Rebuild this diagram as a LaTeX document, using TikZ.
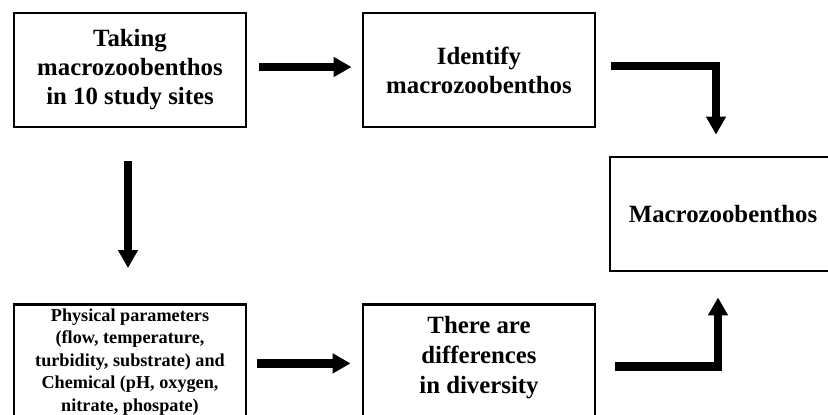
\documentclass[tikz,border=0pt]{standalone}
\usepackage{fontspec}
\setmainfont{Liberation Serif}
\usetikzlibrary{arrows.meta,positioning}

\begin{document}
\begin{tikzpicture}[
    x=0.5pt, y=-0.5pt,
    box/.style={draw, line width=1.4pt, minimum width=116pt, minimum height=57pt,
      inner sep=0pt, align=center, font=\bfseries\fontsize{12.4}{14.5}\selectfont},
    txt/.style={inner sep=0pt, align=center, font=\bfseries\fontsize{12.4}{15}\selectfont},
    smalltxt/.style={inner sep=0pt, align=center, font=\bfseries\fontsize{9.1}{11.25}\selectfont},
    flow/.style={line width=4.2pt, line join=miter, -{Triangle[length=9pt,width=9.5pt]}}
  ]
  \useasboundingbox (0,0) rectangle (828,414);
  \clip (0,0) rectangle (828,414);

  % верхний ряд
  \node[box] (taking) at (130,70) {Taking\\macrozoobenthos\\in 10 study sites};
  \node[box] (identify) at (479,70) {Identify\\macrozoobenthos};

  % итоговый блок справа
  \node[box, minimum width=113pt] (macro) at (723,214) {Macrozoobenthos};

  % нижний ряд
  \node[box, minimum height=70pt, anchor=north] (phys) at (130,303) {};
  \node[smalltxt] (physText) at (130,362) {Physical parameters\\(flow, temperature,\\turbidity, substrate) and\\Chemical (pH, oxygen,\\nitrate, phospate)};
  \node[box, minimum height=70pt, anchor=north] (diversity) at (479,303) {};
  \node[txt] (diversityText) at (479,358) {There are\\differences\\in diversity};

  % стрелки
  \draw[flow] ([xshift=6pt,yshift=1.5pt]taking.east) -- ([xshift=-5pt,yshift=1.5pt]identify.west);
  \draw[flow] ([xshift=7.5pt,yshift=2pt]identify.east) -| ([xshift=-3.5pt,yshift=10.5pt]macro.north);
  \draw[flow] ([xshift=-1pt,yshift=-16.5pt]taking.south) -- ([xshift=-1pt,yshift=17.5pt]phys.north);
  \draw[flow] ([xshift=5pt,yshift=5.5pt]phys.east) -- ([xshift=-5.5pt,yshift=5.5pt]diversity.west);
  \draw[flow] ([xshift=9.5pt,yshift=4pt]diversity.east) -| ([xshift=-2.5pt,yshift=-12.5pt]macro.south);
\end{tikzpicture}
\end{document}
